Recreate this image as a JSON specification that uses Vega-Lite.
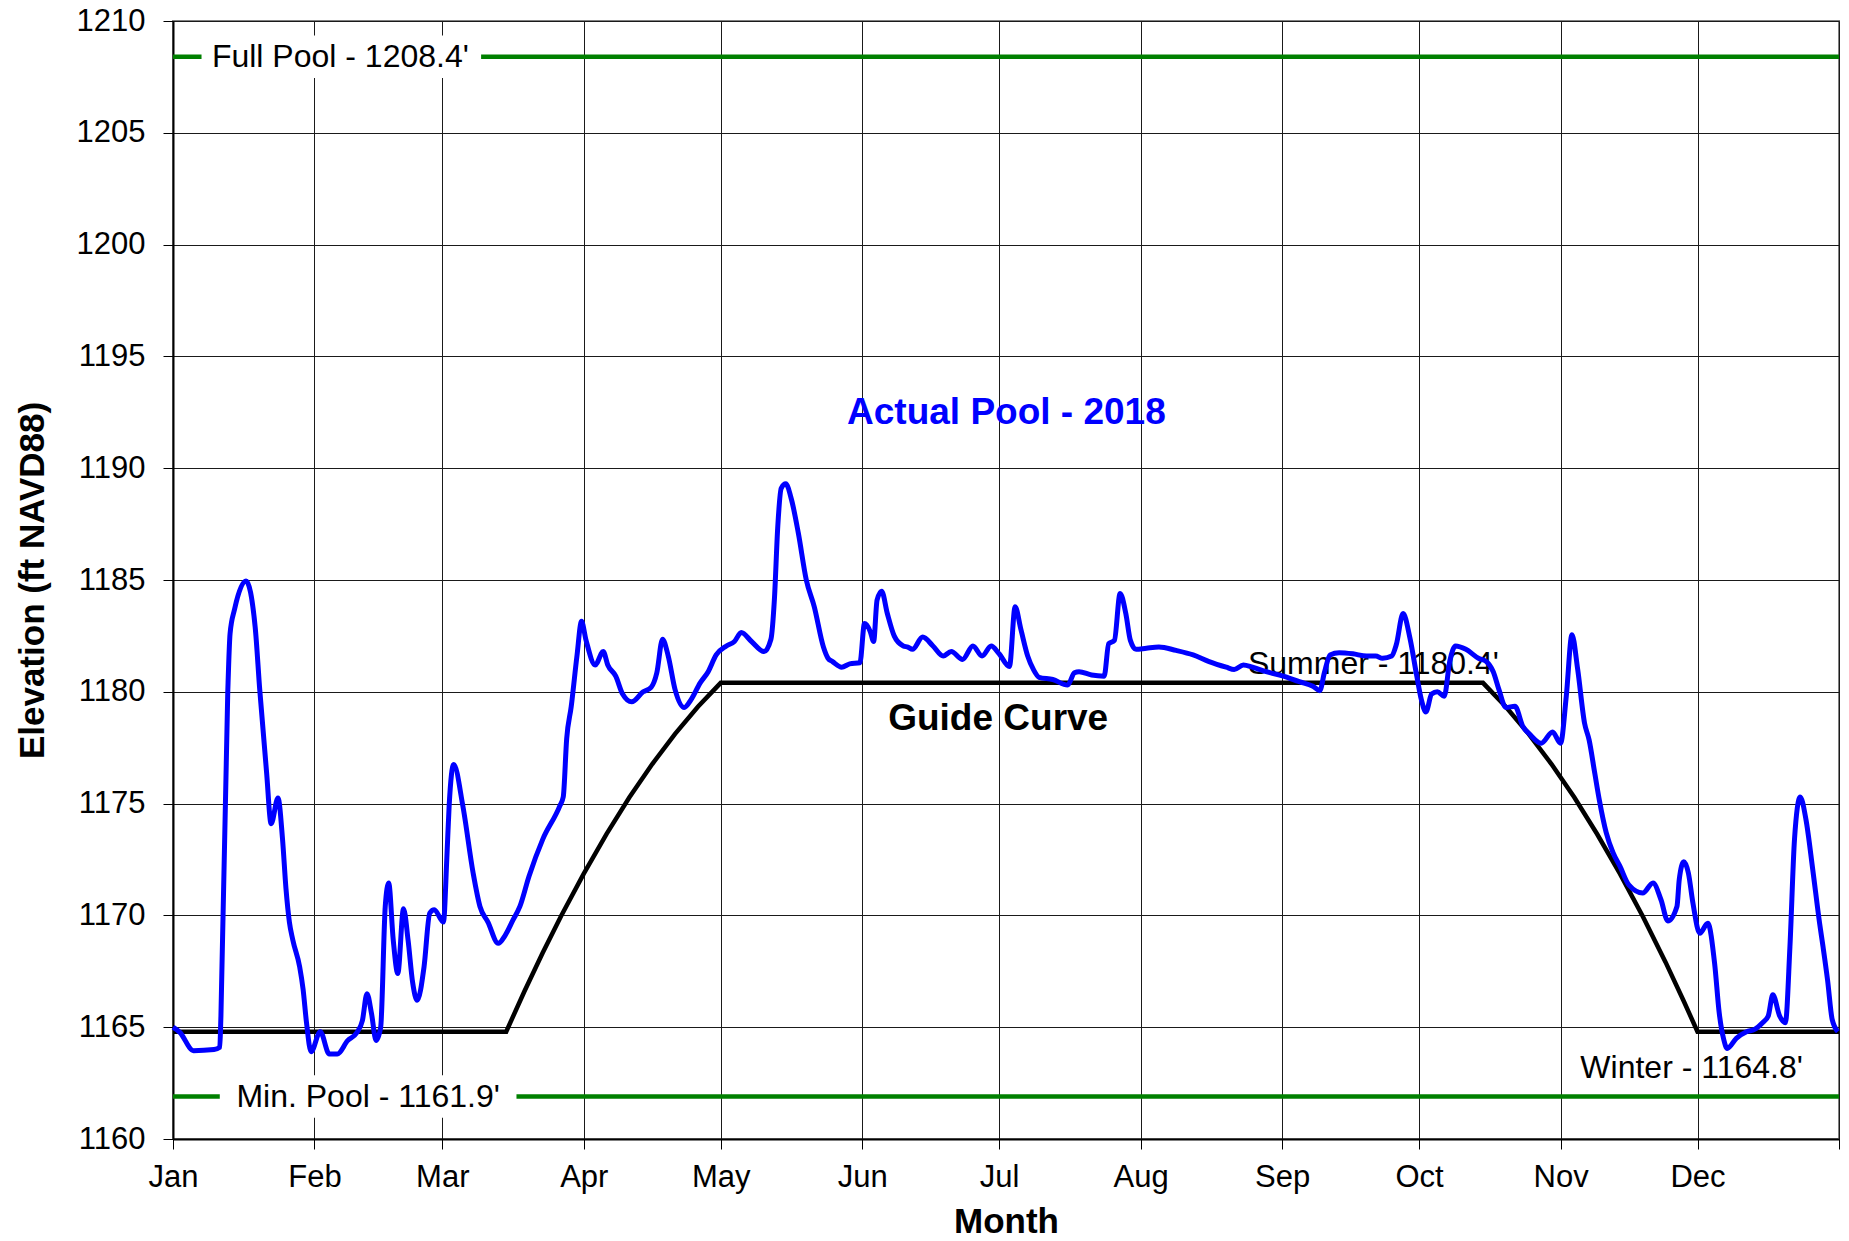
{
  "$schema": "https://vega.github.io/schema/vega-lite/v6.json",
  "width": 1666,
  "height": 1118,
  "autosize": {"type": "none"},
  "padding": {"left": 173, "top": 21, "right": 10, "bottom": 102},
  "background": "white",
  "config": {
    "font": "Liberation Sans",
    "view": {"stroke": "#808080", "strokeWidth": 2}
  },
  "datasets": {
    "actual": [
      {"date": "2018-01-01T00:00", "elev": 1165.0},
      {"date": "2018-01-02T12:00", "elev": 1164.77},
      {"date": "2018-01-05T12:00", "elev": 1163.95},
      {"date": "2018-01-10T00:00", "elev": 1164.0},
      {"date": "2018-01-11T06:00", "elev": 1164.1},
      {"date": "2018-01-11T12:00", "elev": 1165.5},
      {"date": "2018-01-13T00:00", "elev": 1180.0},
      {"date": "2018-01-13T12:00", "elev": 1182.6},
      {"date": "2018-01-14T12:00", "elev": 1183.7},
      {"date": "2018-01-17T00:00", "elev": 1184.95},
      {"date": "2018-01-19T00:00", "elev": 1182.9},
      {"date": "2018-01-20T00:00", "elev": 1180.1},
      {"date": "2018-01-21T12:00", "elev": 1176.4},
      {"date": "2018-01-22T12:00", "elev": 1174.1},
      {"date": "2018-01-24T00:00", "elev": 1175.25},
      {"date": "2018-01-25T00:00", "elev": 1173.4},
      {"date": "2018-01-25T18:00", "elev": 1171.2},
      {"date": "2018-01-26T12:00", "elev": 1169.7},
      {"date": "2018-01-27T06:00", "elev": 1168.9},
      {"date": "2018-01-28T18:00", "elev": 1167.7},
      {"date": "2018-01-29T12:00", "elev": 1166.7},
      {"date": "2018-01-30T06:00", "elev": 1165.2},
      {"date": "2018-01-31T06:00", "elev": 1163.9},
      {"date": "2018-02-02T06:00", "elev": 1164.8},
      {"date": "2018-02-04T06:00", "elev": 1163.8},
      {"date": "2018-02-06T00:00", "elev": 1163.8},
      {"date": "2018-02-08T06:00", "elev": 1164.4},
      {"date": "2018-02-10T06:00", "elev": 1164.75},
      {"date": "2018-02-11T12:00", "elev": 1165.3},
      {"date": "2018-02-12T12:00", "elev": 1166.5},
      {"date": "2018-02-13T12:00", "elev": 1165.6},
      {"date": "2018-02-14T12:00", "elev": 1164.4},
      {"date": "2018-02-15T12:00", "elev": 1165.0},
      {"date": "2018-02-16T12:00", "elev": 1170.4},
      {"date": "2018-02-17T06:00", "elev": 1171.45},
      {"date": "2018-02-18T06:00", "elev": 1168.9},
      {"date": "2018-02-19T06:00", "elev": 1167.4},
      {"date": "2018-02-20T12:00", "elev": 1170.3},
      {"date": "2018-02-21T12:00", "elev": 1168.9},
      {"date": "2018-02-22T12:00", "elev": 1167.0},
      {"date": "2018-02-23T12:00", "elev": 1166.2},
      {"date": "2018-02-25T00:00", "elev": 1167.7},
      {"date": "2018-02-26T06:00", "elev": 1170.1},
      {"date": "2018-02-27T06:00", "elev": 1170.25},
      {"date": "2018-03-01T06:00", "elev": 1169.7},
      {"date": "2018-03-02T00:00", "elev": 1172.6},
      {"date": "2018-03-02T12:00", "elev": 1174.9},
      {"date": "2018-03-03T12:00", "elev": 1176.75},
      {"date": "2018-03-05T12:00", "elev": 1174.9},
      {"date": "2018-03-07T18:00", "elev": 1171.9},
      {"date": "2018-03-09T06:00", "elev": 1170.4},
      {"date": "2018-03-11T00:00", "elev": 1169.7},
      {"date": "2018-03-13T06:00", "elev": 1168.75},
      {"date": "2018-03-14T18:00", "elev": 1169.1},
      {"date": "2018-03-16T12:00", "elev": 1169.8},
      {"date": "2018-03-18T00:00", "elev": 1170.4},
      {"date": "2018-03-20T00:00", "elev": 1171.75},
      {"date": "2018-03-23T00:00", "elev": 1173.4},
      {"date": "2018-03-26T18:00", "elev": 1174.9},
      {"date": "2018-03-27T12:00", "elev": 1175.3},
      {"date": "2018-03-28T06:00", "elev": 1177.9},
      {"date": "2018-03-29T06:00", "elev": 1179.35},
      {"date": "2018-03-30T12:00", "elev": 1181.6},
      {"date": "2018-03-31T12:00", "elev": 1183.15},
      {"date": "2018-04-01T12:00", "elev": 1182.3},
      {"date": "2018-04-03T12:00", "elev": 1181.2},
      {"date": "2018-04-05T06:00", "elev": 1181.8},
      {"date": "2018-04-06T06:00", "elev": 1181.2},
      {"date": "2018-04-08T00:00", "elev": 1180.7},
      {"date": "2018-04-09T12:00", "elev": 1179.9},
      {"date": "2018-04-11T12:00", "elev": 1179.55},
      {"date": "2018-04-14T00:00", "elev": 1180.0},
      {"date": "2018-04-15T18:00", "elev": 1180.2},
      {"date": "2018-04-17T00:00", "elev": 1180.85},
      {"date": "2018-04-18T06:00", "elev": 1182.35},
      {"date": "2018-04-19T12:00", "elev": 1181.6},
      {"date": "2018-04-21T00:00", "elev": 1180.1},
      {"date": "2018-04-23T00:00", "elev": 1179.3},
      {"date": "2018-04-24T12:00", "elev": 1179.65},
      {"date": "2018-04-26T12:00", "elev": 1180.4},
      {"date": "2018-04-28T06:00", "elev": 1180.9},
      {"date": "2018-04-30T00:00", "elev": 1181.65},
      {"date": "2018-05-02T06:00", "elev": 1182.05},
      {"date": "2018-05-04T00:00", "elev": 1182.25},
      {"date": "2018-05-05T12:00", "elev": 1182.65},
      {"date": "2018-05-07T18:00", "elev": 1182.25},
      {"date": "2018-05-10T12:00", "elev": 1181.8},
      {"date": "2018-05-12T00:00", "elev": 1182.35},
      {"date": "2018-05-12T18:00", "elev": 1184.1},
      {"date": "2018-05-13T12:00", "elev": 1187.4},
      {"date": "2018-05-14T06:00", "elev": 1189.1},
      {"date": "2018-05-15T06:00", "elev": 1189.3},
      {"date": "2018-05-16T12:00", "elev": 1188.6},
      {"date": "2018-05-18T00:00", "elev": 1187.1},
      {"date": "2018-05-19T18:00", "elev": 1185.0},
      {"date": "2018-05-21T12:00", "elev": 1183.8},
      {"date": "2018-05-23T12:00", "elev": 1182.0},
      {"date": "2018-05-24T12:00", "elev": 1181.5},
      {"date": "2018-05-25T12:00", "elev": 1181.35},
      {"date": "2018-05-27T12:00", "elev": 1181.1},
      {"date": "2018-05-29T06:00", "elev": 1181.25},
      {"date": "2018-05-31T12:00", "elev": 1181.3},
      {"date": "2018-06-01T12:00", "elev": 1183.05},
      {"date": "2018-06-02T18:00", "elev": 1182.7},
      {"date": "2018-06-03T12:00", "elev": 1182.25},
      {"date": "2018-06-04T06:00", "elev": 1184.1},
      {"date": "2018-06-05T06:00", "elev": 1184.5},
      {"date": "2018-06-06T12:00", "elev": 1183.5},
      {"date": "2018-06-08T00:00", "elev": 1182.5},
      {"date": "2018-06-10T00:00", "elev": 1182.05},
      {"date": "2018-06-11T00:00", "elev": 1182.0},
      {"date": "2018-06-12T00:00", "elev": 1181.9},
      {"date": "2018-06-14T06:00", "elev": 1182.45},
      {"date": "2018-06-16T12:00", "elev": 1182.05},
      {"date": "2018-06-18T18:00", "elev": 1181.6},
      {"date": "2018-06-20T12:00", "elev": 1181.8},
      {"date": "2018-06-23T00:00", "elev": 1181.45},
      {"date": "2018-06-25T06:00", "elev": 1182.05},
      {"date": "2018-06-27T06:00", "elev": 1181.6},
      {"date": "2018-06-29T06:00", "elev": 1182.05},
      {"date": "2018-07-01T00:00", "elev": 1181.7},
      {"date": "2018-07-03T06:00", "elev": 1181.13},
      {"date": "2018-07-04T12:00", "elev": 1183.8},
      {"date": "2018-07-05T18:00", "elev": 1182.8},
      {"date": "2018-07-07T06:00", "elev": 1181.6},
      {"date": "2018-07-08T12:00", "elev": 1181.0},
      {"date": "2018-07-09T18:00", "elev": 1180.65},
      {"date": "2018-07-12T18:00", "elev": 1180.55},
      {"date": "2018-07-16T00:00", "elev": 1180.3},
      {"date": "2018-07-17T12:00", "elev": 1180.85},
      {"date": "2018-07-18T12:00", "elev": 1180.9},
      {"date": "2018-07-21T06:00", "elev": 1180.75},
      {"date": "2018-07-24T00:00", "elev": 1180.7},
      {"date": "2018-07-25T00:00", "elev": 1182.15},
      {"date": "2018-07-26T06:00", "elev": 1182.3},
      {"date": "2018-07-27T12:00", "elev": 1184.4},
      {"date": "2018-07-28T18:00", "elev": 1183.5},
      {"date": "2018-07-29T18:00", "elev": 1182.3},
      {"date": "2018-07-31T00:00", "elev": 1181.9},
      {"date": "2018-08-02T06:00", "elev": 1181.95},
      {"date": "2018-08-05T00:00", "elev": 1182.0},
      {"date": "2018-08-08T18:00", "elev": 1181.85},
      {"date": "2018-08-12T12:00", "elev": 1181.65},
      {"date": "2018-08-16T00:00", "elev": 1181.35},
      {"date": "2018-08-19T18:00", "elev": 1181.1},
      {"date": "2018-08-21T12:00", "elev": 1181.0},
      {"date": "2018-08-23T12:00", "elev": 1181.2},
      {"date": "2018-08-25T12:00", "elev": 1181.1},
      {"date": "2018-08-28T12:00", "elev": 1180.9},
      {"date": "2018-09-01T06:00", "elev": 1180.7},
      {"date": "2018-09-04T18:00", "elev": 1180.45},
      {"date": "2018-09-07T18:00", "elev": 1180.25},
      {"date": "2018-09-09T06:00", "elev": 1180.05},
      {"date": "2018-09-10T06:00", "elev": 1180.85},
      {"date": "2018-09-11T12:00", "elev": 1181.65},
      {"date": "2018-09-13T12:00", "elev": 1181.75},
      {"date": "2018-09-16T12:00", "elev": 1181.7},
      {"date": "2018-09-19T12:00", "elev": 1181.6},
      {"date": "2018-09-21T12:00", "elev": 1181.6},
      {"date": "2018-09-23T00:00", "elev": 1181.5},
      {"date": "2018-09-25T00:00", "elev": 1181.6},
      {"date": "2018-09-26T00:00", "elev": 1182.1},
      {"date": "2018-09-27T12:00", "elev": 1183.5},
      {"date": "2018-09-29T00:00", "elev": 1182.4},
      {"date": "2018-09-30T12:00", "elev": 1180.7},
      {"date": "2018-10-01T12:00", "elev": 1179.65},
      {"date": "2018-10-02T12:00", "elev": 1179.1},
      {"date": "2018-10-03T18:00", "elev": 1179.9},
      {"date": "2018-10-05T00:00", "elev": 1180.0},
      {"date": "2018-10-06T12:00", "elev": 1179.8},
      {"date": "2018-10-07T18:00", "elev": 1181.4},
      {"date": "2018-10-09T00:00", "elev": 1182.05},
      {"date": "2018-10-11T06:00", "elev": 1181.9},
      {"date": "2018-10-14T00:00", "elev": 1181.5},
      {"date": "2018-10-15T18:00", "elev": 1181.35},
      {"date": "2018-10-17T06:00", "elev": 1180.9},
      {"date": "2018-10-18T12:00", "elev": 1180.1},
      {"date": "2018-10-20T00:00", "elev": 1179.3},
      {"date": "2018-10-22T00:00", "elev": 1179.35},
      {"date": "2018-10-23T18:00", "elev": 1178.45},
      {"date": "2018-10-25T06:00", "elev": 1178.1},
      {"date": "2018-10-27T18:00", "elev": 1177.7},
      {"date": "2018-10-30T06:00", "elev": 1178.2},
      {"date": "2018-11-01T00:00", "elev": 1177.7},
      {"date": "2018-11-02T06:00", "elev": 1179.8},
      {"date": "2018-11-03T12:00", "elev": 1182.55},
      {"date": "2018-11-04T18:00", "elev": 1181.0},
      {"date": "2018-11-06T06:00", "elev": 1178.6},
      {"date": "2018-11-07T06:00", "elev": 1177.85},
      {"date": "2018-11-08T12:00", "elev": 1176.35},
      {"date": "2018-11-09T12:00", "elev": 1175.15},
      {"date": "2018-11-11T00:00", "elev": 1173.7},
      {"date": "2018-11-12T12:00", "elev": 1172.8},
      {"date": "2018-11-14T00:00", "elev": 1172.2},
      {"date": "2018-11-16T00:00", "elev": 1171.35},
      {"date": "2018-11-19T00:00", "elev": 1171.0},
      {"date": "2018-11-21T06:00", "elev": 1171.45},
      {"date": "2018-11-23T00:00", "elev": 1170.7},
      {"date": "2018-11-24T12:00", "elev": 1169.75},
      {"date": "2018-11-26T12:00", "elev": 1170.4},
      {"date": "2018-11-27T00:00", "elev": 1171.6},
      {"date": "2018-11-28T00:00", "elev": 1172.4},
      {"date": "2018-11-29T00:00", "elev": 1171.9},
      {"date": "2018-11-30T00:00", "elev": 1170.55},
      {"date": "2018-12-01T12:00", "elev": 1169.2},
      {"date": "2018-12-03T06:00", "elev": 1169.65},
      {"date": "2018-12-04T18:00", "elev": 1167.85},
      {"date": "2018-12-05T18:00", "elev": 1165.65},
      {"date": "2018-12-06T18:00", "elev": 1164.45},
      {"date": "2018-12-07T12:00", "elev": 1164.05},
      {"date": "2018-12-09T12:00", "elev": 1164.5},
      {"date": "2018-12-11T18:00", "elev": 1164.8},
      {"date": "2018-12-13T12:00", "elev": 1164.9},
      {"date": "2018-12-15T06:00", "elev": 1165.2},
      {"date": "2018-12-16T12:00", "elev": 1165.5},
      {"date": "2018-12-17T12:00", "elev": 1166.45},
      {"date": "2018-12-19T00:00", "elev": 1165.5},
      {"date": "2018-12-20T06:00", "elev": 1165.2},
      {"date": "2018-12-21T06:00", "elev": 1168.6},
      {"date": "2018-12-22T06:00", "elev": 1173.4},
      {"date": "2018-12-23T12:00", "elev": 1175.3},
      {"date": "2018-12-24T18:00", "elev": 1174.3},
      {"date": "2018-12-26T06:00", "elev": 1172.05},
      {"date": "2018-12-27T18:00", "elev": 1169.65},
      {"date": "2018-12-28T12:00", "elev": 1168.6},
      {"date": "2018-12-29T12:00", "elev": 1167.1},
      {"date": "2018-12-30T12:00", "elev": 1165.35},
      {"date": "2018-12-31T18:00", "elev": 1164.8}
    ],
    "guide": [
      {"date": "2018-01-01T00:00", "elev": 1164.8},
      {"date": "2018-03-15T00:00", "elev": 1164.8},
      {"date": "2018-03-19T00:00", "elev": 1166.61},
      {"date": "2018-03-23T00:00", "elev": 1168.33},
      {"date": "2018-03-27T00:00", "elev": 1169.96},
      {"date": "2018-04-01T00:00", "elev": 1171.87},
      {"date": "2018-04-06T00:00", "elev": 1173.65},
      {"date": "2018-04-11T00:00", "elev": 1175.28},
      {"date": "2018-04-16T00:00", "elev": 1176.77},
      {"date": "2018-04-21T00:00", "elev": 1178.12},
      {"date": "2018-04-26T00:00", "elev": 1179.33},
      {"date": "2018-05-01T00:00", "elev": 1180.4},
      {"date": "2018-10-15T00:00", "elev": 1180.4},
      {"date": "2018-10-20T00:00", "elev": 1179.33},
      {"date": "2018-10-25T00:00", "elev": 1178.12},
      {"date": "2018-10-30T00:00", "elev": 1176.77},
      {"date": "2018-11-04T00:00", "elev": 1175.28},
      {"date": "2018-11-09T00:00", "elev": 1173.64},
      {"date": "2018-11-14T00:00", "elev": 1171.87},
      {"date": "2018-11-19T00:00", "elev": 1169.96},
      {"date": "2018-11-24T00:00", "elev": 1167.91},
      {"date": "2018-11-28T00:00", "elev": 1166.16},
      {"date": "2018-12-01T00:00", "elev": 1164.8},
      {"date": "2019-01-01T00:00", "elev": 1164.8}
    ],
    "pools": [
      {"name": "Full Pool", "date": "2018-01-01T00:00", "date2": "2019-01-01T00:00", "elev": 1208.4},
      {"name": "Min. Pool", "date": "2018-01-01T00:00", "date2": "2019-01-01T00:00", "elev": 1161.9}
    ],
    "poolLabelBoxes": [
      {"name": "Full Pool", "date": "2018-01-07T06:00", "date2": "2018-03-09T12:00", "elev": 1207.45, "elev2": 1209.35},
      {"name": "Min. Pool", "date": "2018-01-11T06:00", "date2": "2018-03-17T06:00", "elev": 1160.95, "elev2": 1162.85}
    ],
    "levelLabels": [
      {"text": "Full Pool - 1208.4'", "date": "2018-02-06T16:00", "elev": 1208.4},
      {"text": "Min. Pool - 1161.9'", "date": "2018-02-12T18:00", "elev": 1161.9},
      {"text": "Summer - 1180.4'", "date": "2018-09-21T00:00", "elev": 1181.26},
      {"text": "Winter - 1164.8'", "date": "2018-11-29T17:00", "elev": 1163.16}
    ],
    "guideLabel": [
      {"text": "Guide Curve", "date": "2018-06-30T19:00", "elev": 1178.78}
    ],
    "actualLabel": [
      {"text": "Actual Pool - 2018", "date": "2018-07-02T14:00", "elev": 1192.48}
    ]
  },
  "encoding": {
    "x": {
      "field": "date",
      "type": "temporal",
      "scale": {
        "domain": [{"year": 2018, "month": 1, "date": 1}, {"year": 2019, "month": 1, "date": 1}],
        "nice": false
      },
      "axis": {
        "title": "Month",
        "titleFontSize": 35,
        "titleFontWeight": "bold",
        "titleColor": "black",
        "titlePadding": 12,
        "values": [
          {"year": 2018, "month": 1, "date": 1},
          {"year": 2018, "month": 2, "date": 1},
          {"year": 2018, "month": 3, "date": 1},
          {"year": 2018, "month": 4, "date": 1},
          {"year": 2018, "month": 5, "date": 1},
          {"year": 2018, "month": 6, "date": 1},
          {"year": 2018, "month": 7, "date": 1},
          {"year": 2018, "month": 8, "date": 1},
          {"year": 2018, "month": 9, "date": 1},
          {"year": 2018, "month": 10, "date": 1},
          {"year": 2018, "month": 11, "date": 1},
          {"year": 2018, "month": 12, "date": 1},
          {"year": 2019, "month": 1, "date": 1}
        ],
        "labelExpr": "year(datum.value) > 2018 ? '' : timeFormat(datum.value, '%b')",
        "labelFontSize": 31,
        "labelColor": "black",
        "labelFlush": false,
        "labelOverlap": false,
        "labelPadding": 13,
        "tickSize": 10,
        "tickColor": "black",
        "tickWidth": 1,
        "domainColor": "black",
        "domainWidth": 2,
        "grid": true,
        "gridColor": "#1a1a1a",
        "gridWidth": 1
      }
    },
    "y": {
      "field": "elev",
      "type": "quantitative",
      "scale": {"domain": [1160, 1210], "nice": false, "zero": false},
      "axis": {
        "title": "Elevation (ft NAVD88)",
        "titleFontSize": 35,
        "titleFontWeight": "bold",
        "titleColor": "black",
        "titlePadding": 26,
        "values": [1160, 1165, 1170, 1175, 1180, 1185, 1190, 1195, 1200, 1205, 1210],
        "format": "d",
        "labelFontSize": 31,
        "labelColor": "black",
        "labelFlush": false,
        "labelPadding": 18,
        "tickSize": 10,
        "tickColor": "black",
        "tickWidth": 1,
        "domainColor": "black",
        "domainWidth": 2,
        "grid": true,
        "gridColor": "#1a1a1a",
        "gridWidth": 1
      }
    }
  },
  "layer": [
    {
      "data": {"name": "pools"},
      "mark": {"type": "rule", "color": "#008000", "strokeWidth": 4.5},
      "encoding": {
        "x2": {"field": "date2"}
      }
    },
    {
      "data": {"name": "poolLabelBoxes"},
      "mark": {"type": "rect", "color": "white", "opacity": 1},
      "encoding": {
        "x2": {"field": "date2"},
        "y2": {"field": "elev2"}
      }
    },
    {
      "data": {"name": "levelLabels"},
      "mark": {"type": "text", "fontSize": 32, "color": "black", "align": "center", "baseline": "middle"},
      "encoding": {"text": {"field": "text"}}
    },
    {
      "data": {"name": "guideLabel"},
      "mark": {"type": "text", "fontSize": 37, "fontWeight": "bold", "color": "black", "align": "center", "baseline": "middle"},
      "encoding": {"text": {"field": "text"}}
    },
    {
      "data": {"name": "actualLabel"},
      "mark": {"type": "text", "fontSize": 37, "fontWeight": "bold", "color": "#0000FF", "align": "center", "baseline": "middle"},
      "encoding": {"text": {"field": "text"}}
    },
    {
      "data": {"name": "guide"},
      "mark": {"type": "line", "color": "black", "strokeWidth": 4.5, "strokeJoin": "miter"},
      "encoding": {}
    },
    {
      "data": {"name": "actual"},
      "mark": {"type": "line", "color": "#0000FF", "strokeWidth": 5, "interpolate": "monotone"},
      "encoding": {}
    }
  ]
}
